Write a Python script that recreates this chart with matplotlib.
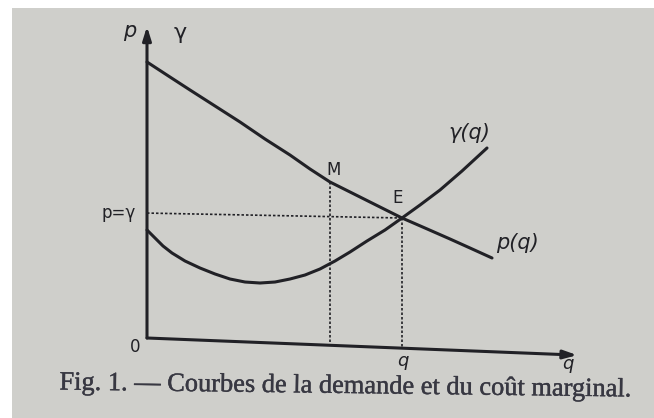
import matplotlib.pyplot as plt
import matplotlib.patheffects as pe
from matplotlib.patches import Rectangle

# demand curve p(q)
q_demand = [0.0, 0.537, 1.005, 1.589, 2.173, 2.757, 3.341, 3.808, 4.276,
            4.743, 5.210, 5.584, 5.958, 6.495, 7.079, 7.547, 8.061]
p_demand = [8.903, 8.419, 8.000, 7.484, 6.968, 6.419, 5.903, 5.452, 5.032,
            4.710, 4.387, 4.129, 3.871, 3.548, 3.194, 2.903, 2.581]

# marginal cost curve gamma(q)
q_cost = [0.0, 0.187, 0.374, 0.584, 0.888, 1.238, 1.589, 1.939, 2.290, 2.640,
          2.991, 3.341, 3.692, 4.042, 4.393, 4.743, 5.140, 5.561, 5.958,
          6.379, 6.846, 7.360, 7.944]
p_cost = [3.484, 3.226, 2.968, 2.742, 2.484, 2.258, 2.065, 1.903, 1.806, 1.774,
          1.806, 1.903, 2.032, 2.226, 2.484, 2.774, 3.129, 3.484, 3.871,
          4.290, 4.774, 5.387, 6.129]

# special points
q_M, p_M = 4.276, 5.032
q_E, p_E = 5.958, 3.871
p_eq_axis = 4.03      # where the dotted p=gamma line meets the vertical axis
axis_slope = -0.055   # the q axis is drawn slightly tilted on the page

ink = (0.13, 0.13, 0.15)
paper = (0.81, 0.81, 0.795)

W, H = 654, 418
fig = plt.figure(figsize=(W / 100, H / 100), dpi=100, facecolor="white")
fig.add_artist(Rectangle((12 / W, 0), 1, 1 - 8 / H, transform=fig.transFigure,
                         facecolor=paper, edgecolor="none", zorder=0))

ax = fig.add_axes([0, 0, 1, 1])
ax.set_facecolor("none")
# page pixels mapped to the curve units
ax.set_xlim(-147 / 42.8, (W - 147) / 42.8)
ax.set_ylim((338 - H) / 31, 338 / 31)
ax.axis("off")


def pos(px, py):
    return (px - 147) / 42.8, (338 - py) / 31


# axes with arrows
arrow = dict(arrowstyle="-|>,head_length=0.8,head_width=0.25",
             color=ink, lw=2.2, shrinkA=0, shrinkB=0)
q_end = 10.05
ax.annotate("", xy=(q_end, axis_slope * q_end), xytext=(0, 0), arrowprops=arrow)
ax.annotate("", xy=(0, 10.05), xytext=(0, 0), arrowprops=arrow)

# curves
ax.plot(q_demand, p_demand, color=ink, lw=2.2, solid_capstyle="round")
ax.plot(q_cost, p_cost, color=ink, lw=2.2, solid_capstyle="round")

# dotted guides
dots = dict(color=ink, lw=1.2, ls=(0, (1.5, 1.2)))
ax.plot([0, q_E], [p_eq_axis, p_E], **dots)
ax.plot([q_M, q_M], [p_M, axis_slope * q_M], **dots)
ax.plot([q_E, q_E], [p_E, axis_slope * q_E], **dots)

lab = dict(color=ink, ha="center", va="center", family="DejaVu Sans")
ax.text(*pos(130, 31), "p", fontsize=15, style="italic", **lab)
ax.text(*pos(180, 33), "γ", fontsize=16, **lab)
ax.text(*pos(119, 213), "p=γ", fontsize=12, **lab)
ax.text(*pos(334, 170), "M", fontsize=12, **lab)
ax.text(*pos(398, 198), "E", fontsize=12, **lab)
ax.text(*pos(469, 133), "γ(q)", fontsize=15, style="italic", **lab)
ax.text(*pos(517, 243), "p(q)", fontsize=15, style="italic", **lab)
ax.text(*pos(135, 347), "0", fontsize=12, **lab)
ax.text(*pos(403, 361), "q", fontsize=13, style="italic", **lab)
ax.text(*pos(568, 364), "q", fontsize=13, style="italic", **lab)

ax.text(*pos(346, 387), "Fig. 1. — Courbes de la demande et du coût marginal.",
        fontsize=19, color=(0.22, 0.22, 0.26), ha="center", va="center",
        rotation=-0.7, rotation_mode="anchor", family="Liberation Serif",
        path_effects=[pe.withStroke(linewidth=0.3, foreground=(0.22, 0.22, 0.26))])

fig.savefig("out.png", dpi=100, facecolor=fig.get_facecolor())
